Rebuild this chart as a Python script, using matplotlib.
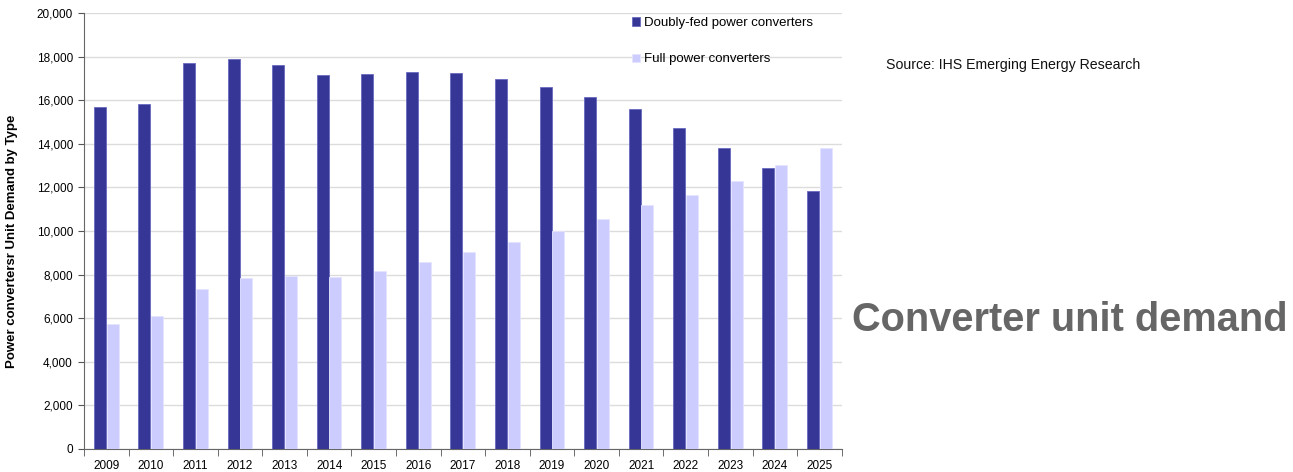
import numpy as np
import matplotlib
matplotlib.use('Agg')
import matplotlib.pyplot as plt
from matplotlib.ticker import FuncFormatter, FixedLocator

plt.rcParams['font.family'] = ['Liberation Sans', 'DejaVu Sans']

# data
years = ['2009', '2010', '2011', '2012', '2013', '2014', '2015', '2016', '2017',
         '2018', '2019', '2020', '2021', '2022', '2023', '2024', '2025']
doubly_fed = [15680, 15840, 17700, 17870, 17610, 17140, 17200, 17290, 17240,
              16980, 16600, 16140, 15590, 14700, 13820, 12890, 11840]
full_power = [5730, 6100, 7340, 7840, 7920, 7890, 8160, 8590, 9050,
              9510, 10000, 10550, 11170, 11650, 12300, 13040, 13820]

dark = '#363696'
light = '#ccccff'

fig = plt.figure(figsize=(12.93, 4.72), dpi=100)
ax = fig.add_axes([0.065, 0.049, 0.586, 0.9235])

x = np.arange(len(years))
w = 0.27
ax.bar(x - 0.145, doubly_fed, w, color=dark, edgecolor='#6a6ac0', lw=0.6,
       label='Doubly-fed power converters', zorder=3)
ax.bar(x + 0.14, full_power, w, color=light, edgecolor='#e4e4ff', lw=0.6,
       label='Full power converters', zorder=3)

ax.set_xlim(-0.5, len(years) - 0.5)
ax.set_ylim(0, 20000)
ax.set_yticks(np.arange(0, 20001, 2000))
ax.yaxis.set_major_formatter(FuncFormatter(lambda v, p: '{:,.0f}'.format(v)))
ax.grid(axis='y', color='#dcdcdc', lw=1, zorder=0)

ax.set_xticks(x)
ax.set_xticklabels(years)
ax.tick_params(axis='x', length=0, labelsize=8.5, pad=8)
ax.xaxis.set_minor_locator(FixedLocator(np.arange(-0.5, len(years), 1)))
ax.tick_params(axis='x', which='minor', length=5, color='#555555')
ax.tick_params(axis='y', length=4, color='#555555', labelsize=8.5, pad=4)

for s in ['top', 'right']:
    ax.spines[s].set_visible(False)
for s in ['left', 'bottom']:
    ax.spines[s].set_color('#666666')

ax.set_ylabel('Power convertersr Unit Demand by Type', fontsize=9.5,
              fontweight='bold')
ax.yaxis.set_label_coords(-0.087, 0.477)

ax.legend(loc='upper left', bbox_to_anchor=(0.708, 1.018), frameon=False,
          fontsize=9.5, handlelength=0.6, handleheight=0.6, handletextpad=0.3,
          labelspacing=1.85)

fig.text(0.685, 0.862, 'Source: IHS Emerging Energy Research', fontsize=10.2,
         va='center', ha='left', color='#111111')
fig.text(0.996, 0.322, 'Converter unit demand', fontsize=28.6, fontweight='bold',
         va='center', ha='right', color='#666666')

fig.savefig('out.png', dpi=100)
